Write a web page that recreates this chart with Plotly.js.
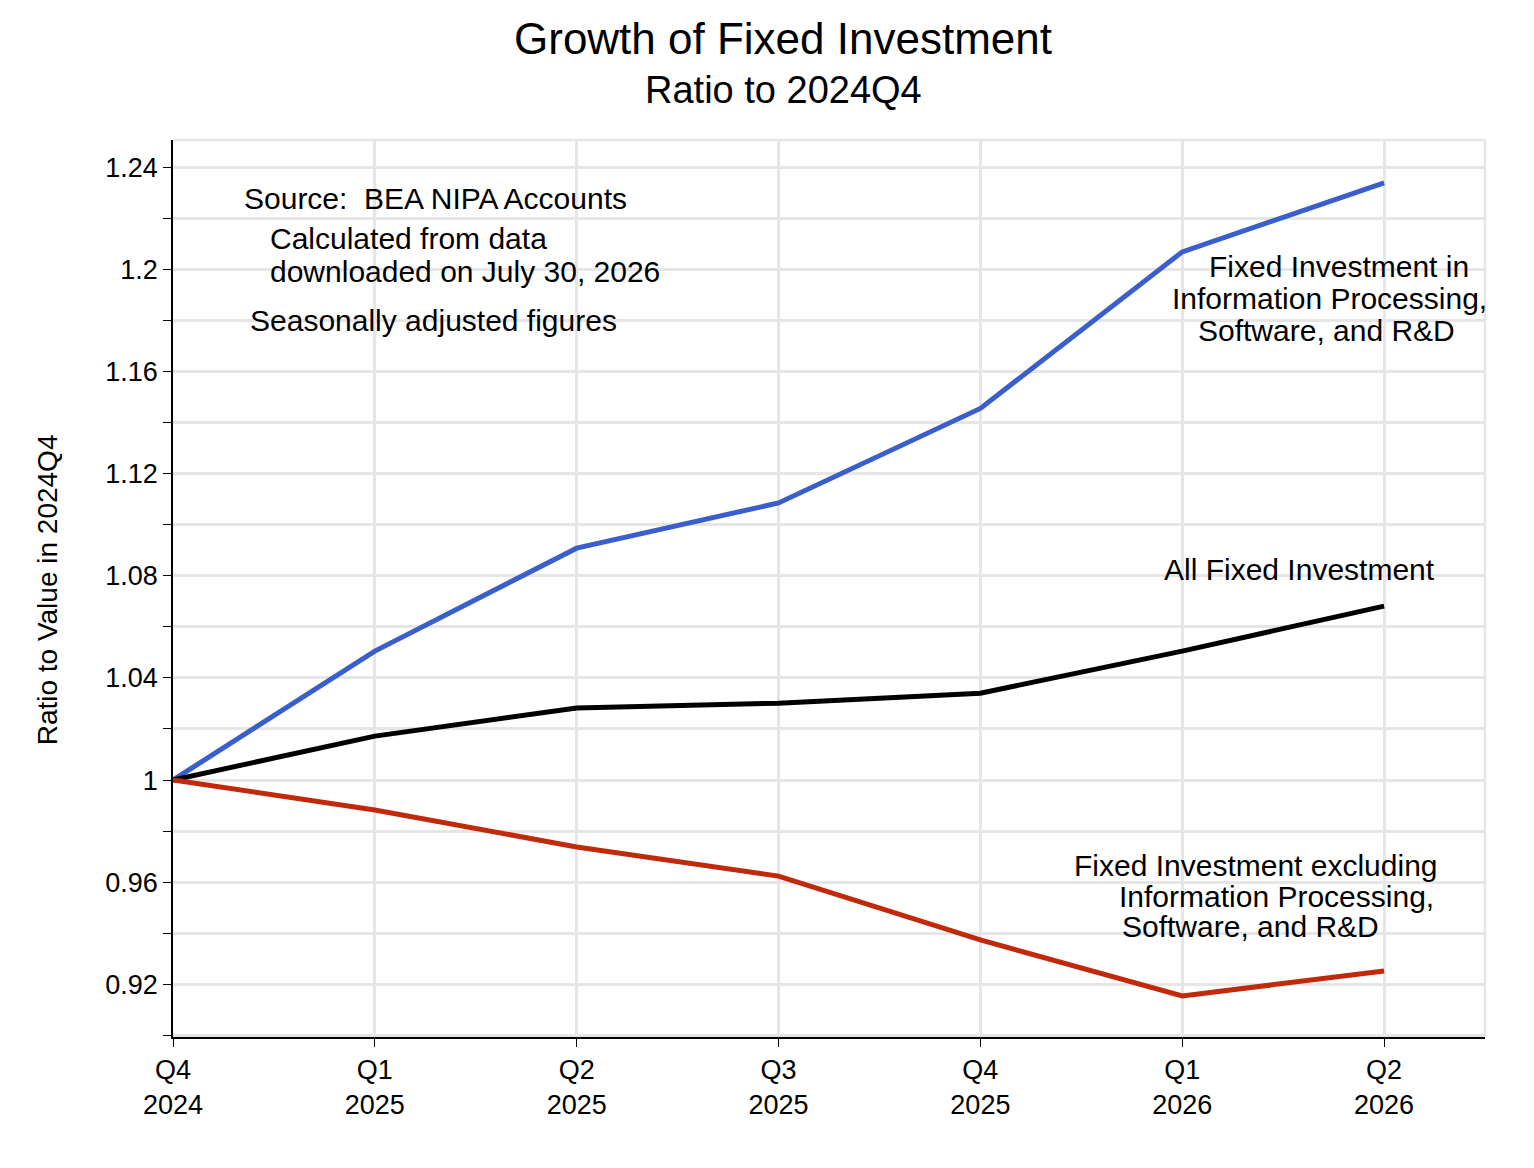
<!DOCTYPE html>
<html>
<head>
<meta charset="utf-8">
<script src="https://cdn.plot.ly/plotly-3.0.1.min.js"></script>
<style>html,body{margin:0;padding:0;background:#fff}</style>
</head>
<body>
<div id="chart" style="width:1534px;height:1168px"></div>
<script>
// ── Datos ────────────────────────────────────────────────
const quarters  = [0, 1, 2, 3, 4, 5, 6];
const tickText  = ['Q4<br>2024', 'Q1<br>2025', 'Q2<br>2025', 'Q3<br>2025', 'Q4<br>2025', 'Q1<br>2026', 'Q2<br>2026'];
const infoProc  = [1, 1.0505, 1.0908, 1.1085, 1.1455, 1.2068, 1.2338];
const allFixed  = [1, 1.0172, 1.0282, 1.0301, 1.0340, 1.0505, 1.0681];
const excluding = [1, 0.9883, 0.9738, 0.9624, 0.9374, 0.9155, 0.9252];
const yTicks    = [0.92, 0.96, 1, 1.04, 1.08, 1.12, 1.16, 1.2, 1.24];

const FONT = 'Liberation Sans, Arial, sans-serif';

function line(y, color) {
  return { type: 'scatter', mode: 'lines', x: quarters, y: y,
           line: { color: color, width: 5 }, hoverinfo: 'skip' };
}

function note(text, x, y, anchor) {
  return { text: text, x: x, y: y, xref: 'x', yref: 'y', showarrow: false,
           xanchor: anchor || 'center', yanchor: 'middle',
           font: { family: FONT, size: 30, color: '#000' } };
}

function paperNote(text, x, y, size, angle) {
  return { text: text, x: x, y: y, xref: 'paper', yref: 'paper', showarrow: false,
           xanchor: 'center', yanchor: 'middle', textangle: angle || 0,
           font: { family: FONT, size: size, color: '#000' } };
}

const layout = {
  paper_bgcolor: '#fff',
  plot_bgcolor: '#fff',
  font: { family: FONT, color: '#000', size: 27 },
  margin: { l: 173, r: 49, t: 140, b: 131 },
  showlegend: false,
  xaxis: {
    range: [0, 6.5], tickvals: quarters, ticktext: tickText,
    showgrid: true, gridcolor: '#e6e6e6', gridwidth: 2.5,
    ticks: 'outside', ticklen: 8, tickcolor: '#000',
    showline: true, linecolor: '#000', linewidth: 1.5, zeroline: false,
    tickfont: { size: 27 }
  },
  yaxis: {
    range: [0.8994, 1.2506], tickvals: yTicks, ticktext: yTicks.map(String),
    showgrid: true, gridcolor: '#e6e6e6', gridwidth: 2.5,
    ticks: 'outside', ticklen: 8, tickcolor: '#000',
    showline: true, linecolor: '#000', linewidth: 1.5, zeroline: false,
    minor: { dtick: 0.02, tick0: 0.9, ticks: 'outside', ticklen: 8, tickcolor: '#000',
             showgrid: true, gridcolor: '#e6e6e6', gridwidth: 2.5 },
    tickfont: { size: 27 }
  },
  shapes: [
    { type: 'line', xref: 'paper', yref: 'paper', x0: 1, x1: 1, y0: 0, y1: 1,
      line: { color: '#e6e6e6', width: 2.5 } },
    { type: 'line', xref: 'paper', yref: 'paper', x0: 0, x1: 1, y0: 1, y1: 1,
      line: { color: '#e6e6e6', width: 2.5 } }
  ],
  annotations: [
    paperNote('Growth of Fixed Investment', 0.465, 1.1137, 44),
    paperNote('Ratio to 2024Q4', 0.465, 1.0557, 38),
    paperNote('Ratio to Value in 2024Q4', -0.096, 0.498, 28, -90),
    note('Source:  BEA NIPA Accounts', 1.302, 1.2278),
    note('Calculated from data', 0.47, 1.2121, 'left'),
    note('downloaded on July 30, 2026', 0.47, 1.1992, 'left'),
    note('Seasonally adjusted figures', 1.292, 1.1800),
    note('Fixed Investment in', 5.777, 1.2012),
    note('Information Processing,', 5.728, 1.1887),
    note('Software, and R&D', 5.713, 1.1761),
    note('All Fixed Investment', 5.579, 1.0826),
    note('Fixed Investment excluding', 5.366, 0.9667),
    note('Information Processing,', 5.465, 0.9546),
    note('Software, and R&D', 5.337, 0.9425)
  ]
};

Plotly.newPlot('chart',
  [line(infoProc, '#3a5fcd'), line(allFixed, '#000000'), line(excluding, '#c02a0a')],
  layout, { displayModeBar: false });
</script>
</body>
</html>
